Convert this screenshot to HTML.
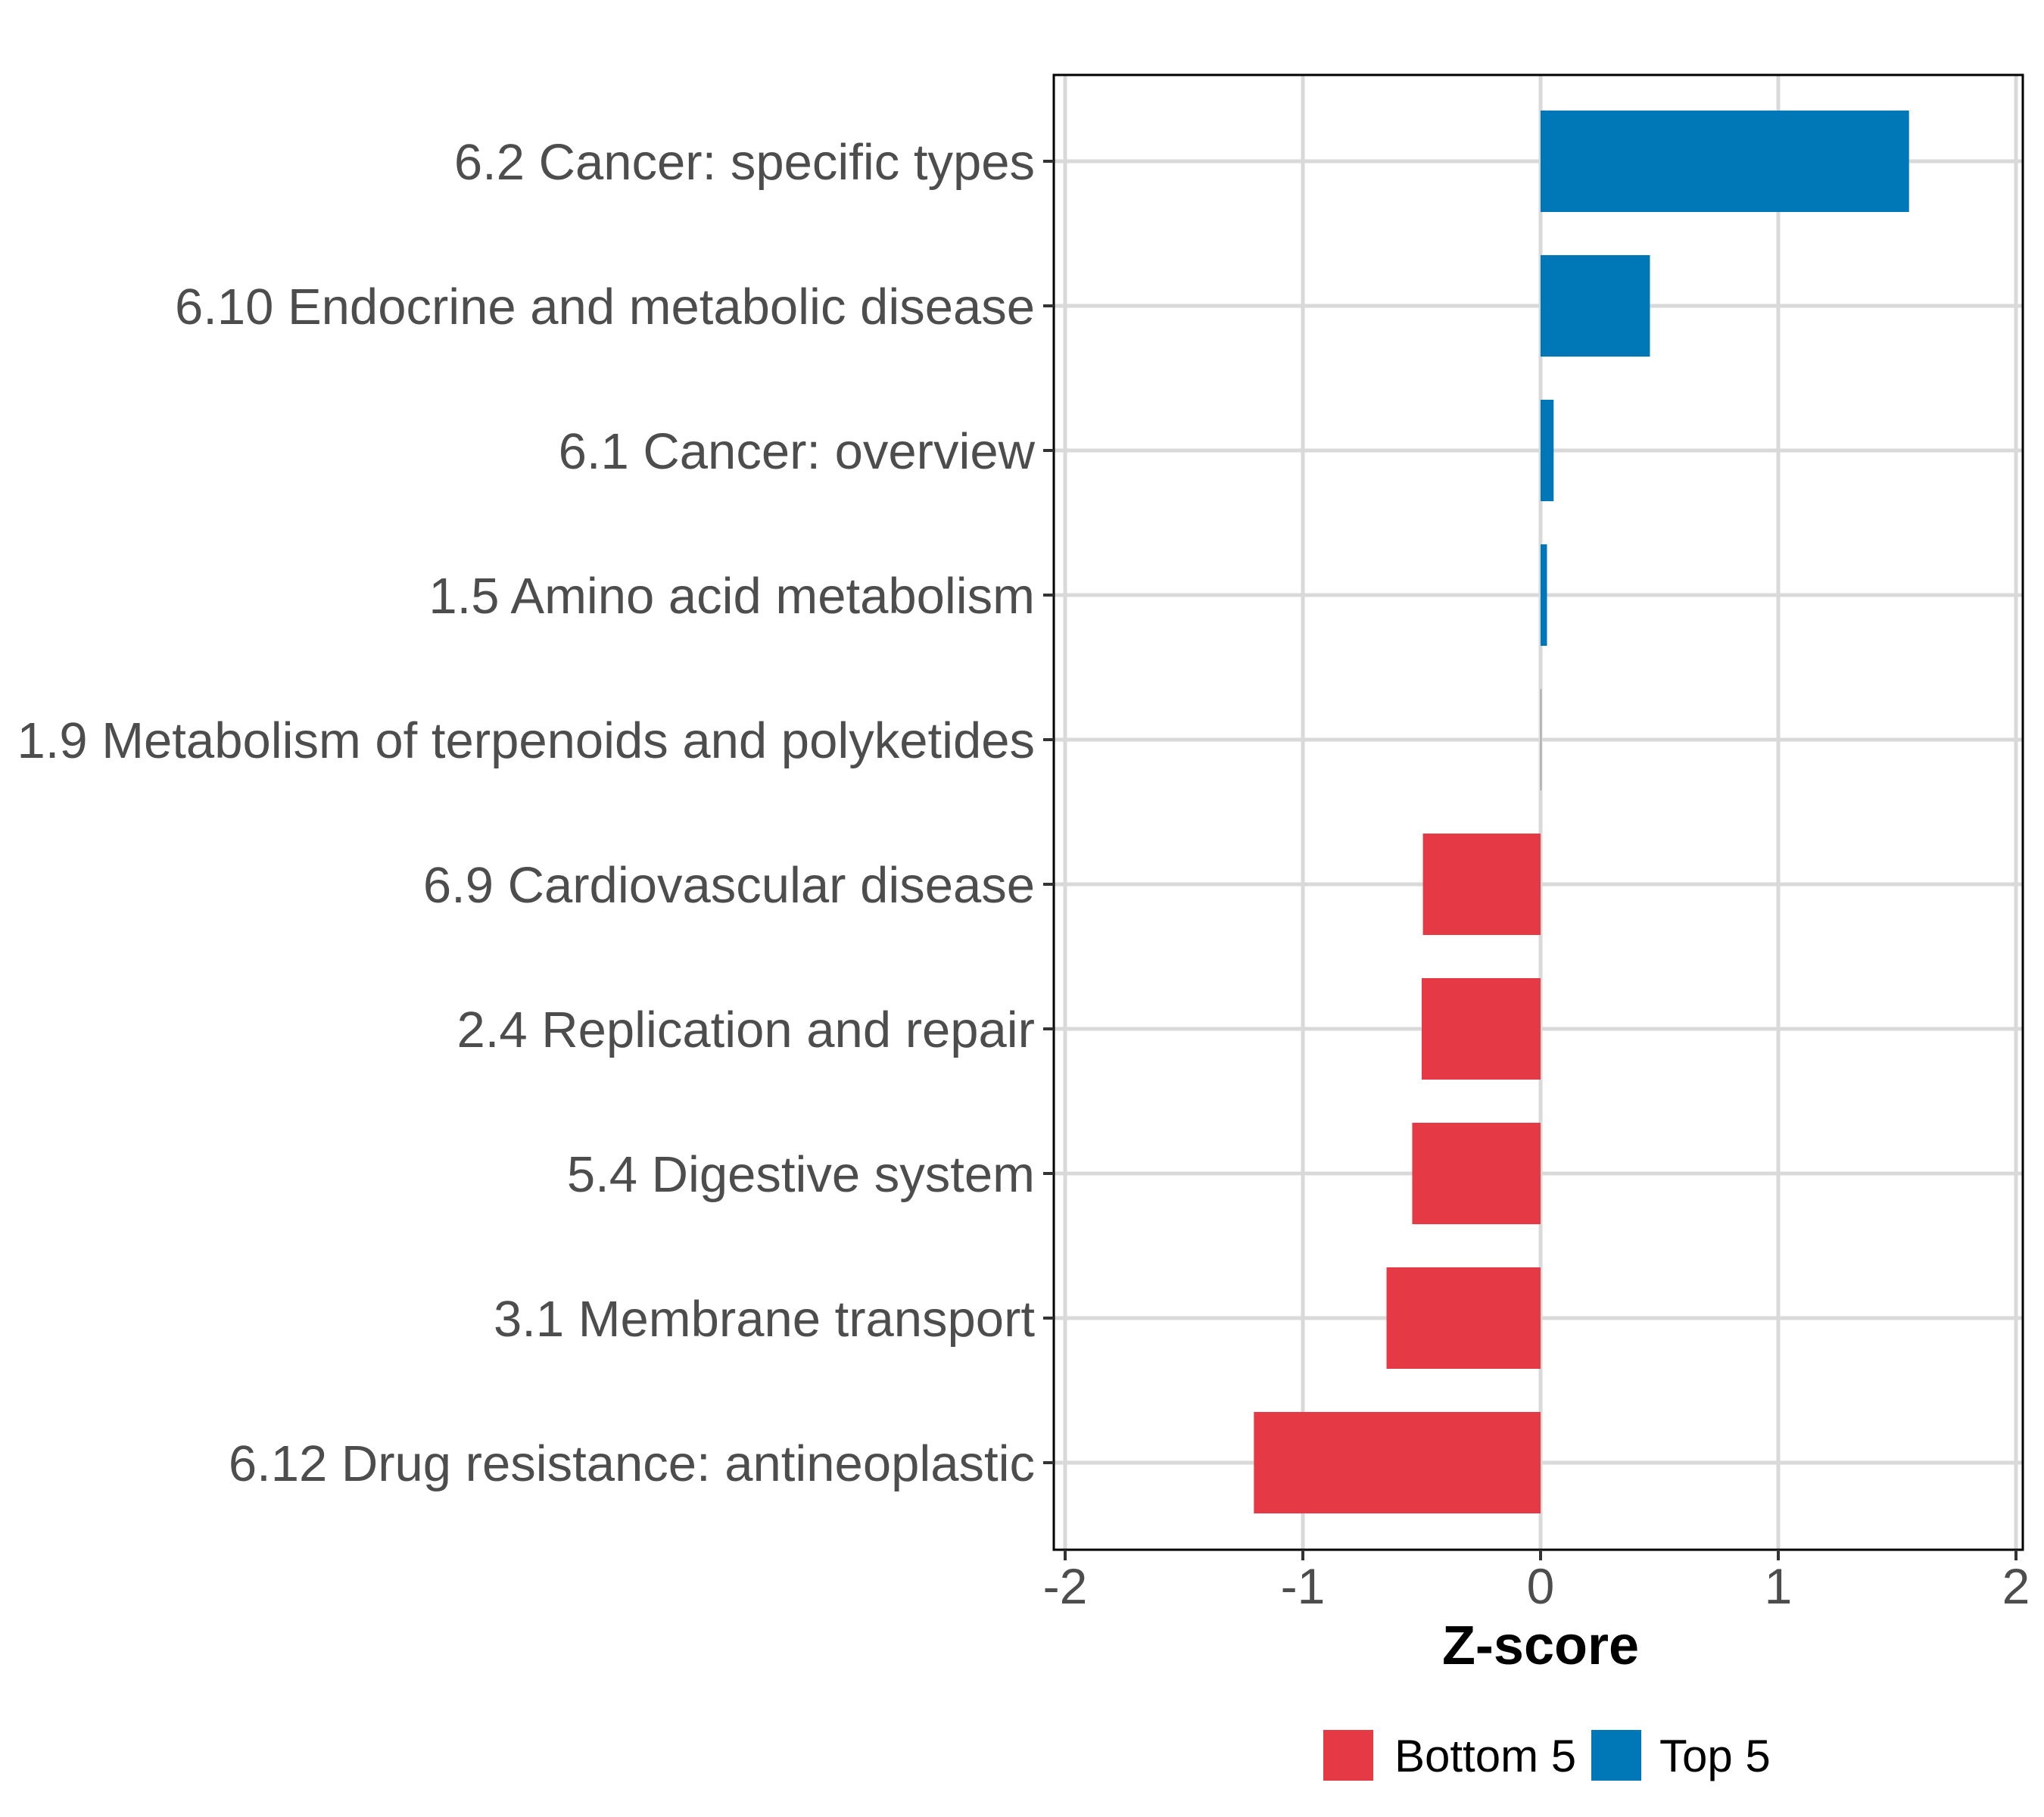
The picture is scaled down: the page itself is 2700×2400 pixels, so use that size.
<!DOCTYPE html>
<html><head><meta charset="utf-8"><style>
html,body{margin:0;padding:0;background:#fff;}
svg{display:block;font-family:"Liberation Sans",Arial,sans-serif;}
</style></head><body>
<svg id="chart" width="2700" height="2400" viewBox="0 0 2700 2400" xmlns="http://www.w3.org/2000/svg">
<g id="grid"></g>
<g id="bars"></g>
<rect x="1392" y="99" width="1280" height="1948" fill="none" stroke="#000" stroke-width="3"/>
<g id="yaxis"></g>
<g id="xaxis"></g>
<text x="2035" y="2198" text-anchor="middle" font-size="72" font-weight="bold" fill="#000">Z-score</text>
<g>
<rect x="1748" y="2285" width="66" height="67" fill="#E63946"/>
<text x="1842" y="2340" font-size="60" fill="#000">Bottom 5</text>
<rect x="2102" y="2285" width="66" height="67" fill="#0077B6"/>
<text x="2192" y="2340" font-size="60" fill="#000">Top 5</text>
</g>
</svg>
<script>
const categories = ["6.2 Cancer: specific types","6.10 Endocrine and metabolic disease","6.1 Cancer: overview","1.5 Amino acid metabolism","1.9 Metabolism of terpenoids and polyketides","6.9 Cardiovascular disease","2.4 Replication and repair","5.4 Digestive system","3.1 Membrane transport","6.12 Drug resistance: antineoplastic"];
const values = [1.55, 0.46, 0.055, 0.027, 0.003, -0.495, -0.5, -0.54, -0.648, -1.206];
const groups = ["Top 5","Top 5","Top 5","Top 5","Top 5","Bottom 5","Bottom 5","Bottom 5","Bottom 5","Bottom 5"];
const xTicks = [-2,-1,0,1,2];
const xTickLabels = ["-2","-1","0","1","2"];

const NS="http://www.w3.org/2000/svg";
const X0=2035, UNIT=314;
function xs(v){return X0+v*UNIT;}
const Y0=213, STEP=191;
function ys(i){return Y0+i*STEP;}
function mk(tag,attrs,parent){const e=document.createElementNS(NS,tag);for(const k in attrs)e.setAttribute(k,attrs[k]);parent.appendChild(e);return e;}
const grid=document.getElementById('grid'),bars=document.getElementById('bars'),ya=document.getElementById('yaxis'),xa=document.getElementById('xaxis');
xTicks.forEach((t,i)=>{
  const l=mk('line',{x1:xs(t),x2:xs(t),y1:99,y2:2047,stroke:'#d9d9d9','stroke-width':5},grid);
  
  
  const tk=mk('line',{x1:xs(t),x2:xs(t),y1:2047,y2:2061,stroke:'#333','stroke-width':4},xa);
  
  
  const tx=mk('text',{x:xs(t),y:2118,'text-anchor':'middle','font-size':66,fill:'#4d4d4d'},xa);
  tx.textContent=xTickLabels[i];
  
  
});
categories.forEach((c,i)=>{
  const y=ys(i);
  const g=mk('line',{x1:1392,x2:2672,y1:y,y2:y,stroke:'#d9d9d9','stroke-width':5},grid);
  
  
  const v=values[i];
  const x1=Math.min(xs(0),xs(v)), w=Math.abs(xs(v)-xs(0));
  const col=groups[i]==="Top 5"?'#0077B6':'#E63946';
  const r=mk('rect',{x:x1,y:y-67,width:Math.max(w,1),height:134,fill:Math.abs(v)<0.01?'#888':col},bars);
  
  
  const tk=mk('line',{x1:1378,x2:1392,y1:y,y2:y,stroke:'#333','stroke-width':4},ya);
  
  
  const t=mk('text',{x:1367,y:y+24,'text-anchor':'end','font-size':67,fill:'#4d4d4d'},ya);
  t.textContent=c;
  
  
});
</script>
</body></html>
